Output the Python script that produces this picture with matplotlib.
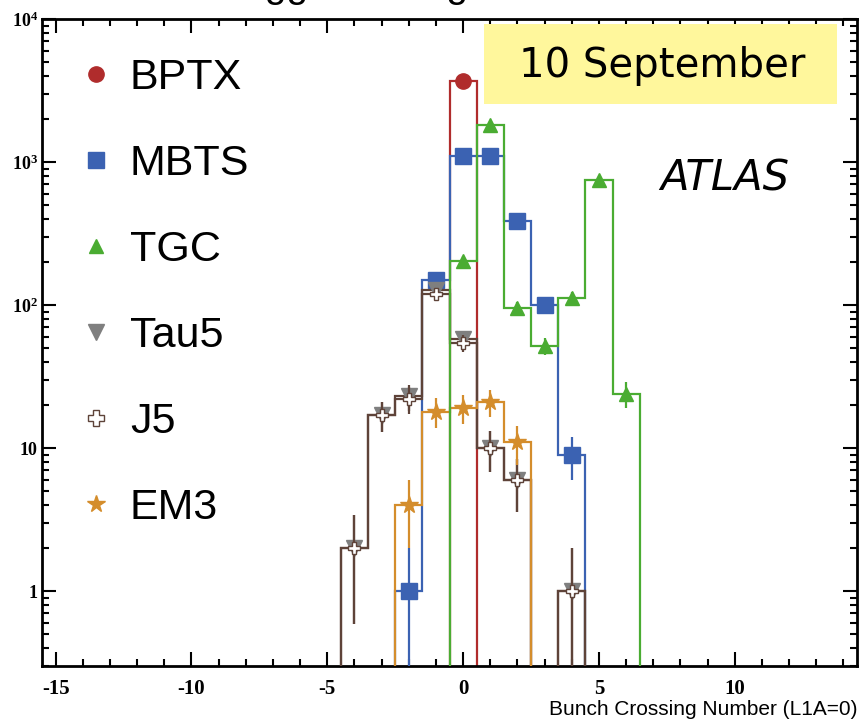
import numpy as np
import matplotlib.pyplot as plt
from matplotlib.lines import Line2D
from matplotlib.patches import Rectangle
from matplotlib.ticker import FixedLocator, MultipleLocator, LogLocator, NullFormatter

# Dati: bunch crossing (centri dei bin) e conteggi
bptx_x = [0]
bptx_n = [3700]
mbts_x = [-2, -1, 0, 1, 2, 3, 4]
mbts_n = [1, 150, 1100, 1100, 390, 100, 9]
tgc_x = [0, 1, 2, 3, 4, 5, 6]
tgc_n = [205, 1820, 95, 52, 113, 750, 24]
tau5_x = [-4, -3, -2, -1, 0, 1, 2, 3, 4]
tau5_n = [2, 17, 23, 128, 58, 10, 6, 0, 1]
j5_x = [-4, -3, -2, -1, 0, 1, 2, 3, 4]
j5_n = [2, 17, 22, 120, 54, 10, 6, 0, 1]
em3_x = [-2, -1, 0, 1, 2]
em3_n = [4, 18, 19, 21, 11]

x_ticks = [-15, -10, -5, 0, 5, 10]
y_ticks = [1, 10, 100, 1000, 10000]
y_tick_labels = ['1', '10', r'$\mathregular{10^{2}}$', r'$\mathregular{10^{3}}$', r'$\mathregular{10^{4}}$']

FLOOR = 1e-3

def draw_hist(ax, xs, ns, color, marker, ms, mfc=None, lw=1.6, z=2, err_color=None, mec=None):
    xs = np.array(xs, dtype=float)
    ns = np.array(ns, dtype=float)
    edges = np.append(xs - 0.5, xs[-1] + 0.5)
    ax.stairs(np.clip(ns, FLOOR, None), edges, baseline=FLOOR, color=color, lw=lw, zorder=z)
    ok = ns > 0
    err = np.sqrt(ns[ok])
    ax.errorbar(xs[ok], ns[ok], yerr=err, fmt=marker, ms=ms,
                color=err_color or color, mfc=mfc or color, mec=mec or mfc or color,
                elinewidth=lw, capsize=0, zorder=z + 0.5)

plt.rcParams['mathtext.fontset'] = 'custom'
plt.rcParams['mathtext.rm'] = 'Liberation Serif:bold'
plt.rcParams['axes.unicode_minus'] = False

fig = plt.figure(figsize=(8.59, 7.2), dpi=100)
ax = fig.add_axes([42 / 859, 54 / 720, 815 / 859, 647 / 720])
ax.set_yscale('log')

red = '#b02c2c'
blue = '#3b62b2'
green = '#4aac32'
grey = '#7f7f7f'
brown = '#5e4339'
orange = '#d48d2c'

draw_hist(ax, bptx_x, bptx_n, red, 'o', 11, z=2)
draw_hist(ax, mbts_x, mbts_n, blue, 's', 11, z=3)
draw_hist(ax, tau5_x, tau5_n, brown, 'v', 11, mfc=grey, z=4, err_color=brown)
draw_hist(ax, j5_x, j5_n, brown, 'P', 9, mfc='white', mec=brown, z=4.2, err_color=brown)
draw_hist(ax, em3_x, em3_n, orange, '*', 13, z=5)
draw_hist(ax, tgc_x, tgc_n, green, '^', 10, z=6)

ax.set_xlim(-15.5, 14.5)
ax.set_ylim(0.3, 1e4)

ax.xaxis.set_major_locator(FixedLocator(x_ticks))
ax.xaxis.set_minor_locator(MultipleLocator(1))
ax.yaxis.set_major_locator(FixedLocator(y_ticks))
ax.yaxis.set_minor_locator(LogLocator(base=10, subs=np.arange(2, 10)))
ax.yaxis.set_minor_formatter(NullFormatter())
ax.set_yticklabels(y_tick_labels)
ax.tick_params(which='both', direction='in', top=True, right=True, width=1.5)
ax.tick_params(which='major', length=10)
ax.tick_params(which='minor', length=5)
ax.tick_params(axis='x', which='major', labelsize=15, pad=9)
ax.tick_params(axis='y', which='major', labelsize=13, pad=3)
for lab in ax.get_xticklabels() + ax.get_yticklabels():
    lab.set_family('Liberation Serif')
    lab.set_weight('bold')
for s in ax.spines.values():
    s.set_linewidth(2)

ax.set_xlabel('Bunch Crossing Number (L1A=0)', family='Liberation Sans', fontsize=15)
ax.xaxis.set_label_coords(1.0, -0.052)
ax.xaxis.label.set_horizontalalignment('right')
ax.xaxis.label.set_verticalalignment('top')

handles = [
    Line2D([], [], ls='none', marker='o', ms=11, color=red),
    Line2D([], [], ls='none', marker='s', ms=11, color=blue),
    Line2D([], [], ls='none', marker='^', ms=10, color=green),
    Line2D([], [], ls='none', marker='v', ms=11, color=grey),
    Line2D([], [], ls='none', marker='P', ms=11, mfc='white', mec=brown),
    Line2D([], [], ls='none', marker='*', ms=13, color=orange),
]
labels = ['BPTX', 'MBTS', 'TGC', 'Tau5', 'J5', 'EM3']
leg = ax.legend(handles, labels, loc='upper left', bbox_to_anchor=(-0.003, 1.0),
                frameon=False, prop={'family': 'Liberation Sans', 'size': 31},
                labelspacing=1.07, handlelength=0.8, handletextpad=0.4)

ax.add_patch(Rectangle((0.542, 0.869), 0.434, 0.123, transform=ax.transAxes,
                       fc='#fff79c', ec='none', zorder=7))
ax.text(0.761, 0.928, '10 September', transform=ax.transAxes, ha='center', va='center',
        fontsize=29, zorder=8)
ax.text(0.838, 0.753, 'ATLAS', transform=ax.transAxes, ha='center', va='center',
        fontsize=30, style='italic')

# titolo tagliato in alto
fig.text(221 / 859, 1 + 3 / 720, 'Trigger Timing', family='Liberation Sans', fontsize=28,
         va='baseline', ha='left')

fig.savefig('out.png', dpi=100)
